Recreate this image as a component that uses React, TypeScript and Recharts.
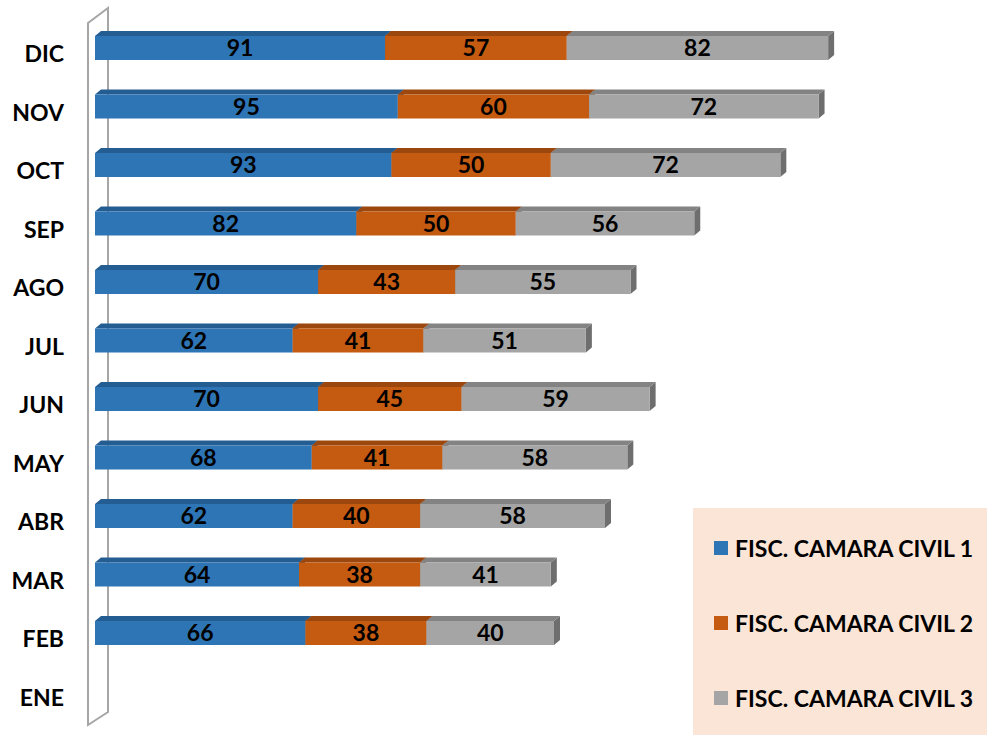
import React from 'react';
import { BarChart, Bar, XAxis, YAxis, LabelList, Legend, ReferenceArea } from 'recharts';

const months = ['ENE', 'FEB', 'MAR', 'ABR', 'MAY', 'JUN', 'JUL', 'AGO', 'SEP', 'OCT', 'NOV', 'DIC'];
const civil1: (number | null)[] = [null, 66, 64, 62, 68, 70, 62, 70, 82, 93, 95, 91];
const civil2: (number | null)[] = [null, 38, 38, 40, 41, 45, 41, 43, 50, 50, 60, 57];
const civil3: (number | null)[] = [null, 40, 41, 58, 58, 59, 51, 55, 56, 72, 72, 82];
const seriesNames = ['FISC. CAMARA CIVIL 1', 'FISC. CAMARA CIVIL 2', 'FISC. CAMARA CIVIL 3'];

const data = months.map((m, i) => ({ month: m, c1: civil1[i], c2: civil2[i], c3: civil3[i] }));

const FONT = 'Lato, "Open Sans", sans-serif';
const FS = 23;
const DX = 6;
const DY = 5;

const colors = [
  { front: '#2E75B6', top: '#245D91', side: '#1F4E79' },
  { front: '#C55A11', top: '#9C470D', side: '#843C0C' },
  { front: '#A5A5A5', top: '#838383', side: '#6E6E6E' },
];

const makeShape = (idx: number) => (props: any) => {
  const { x, y, width, height } = props;
  if (!width || width <= 0 || !height) return null;
  const c = colors[idx];
  const top = `${x},${y} ${x + DX},${y - DY} ${x + width + DX},${y - DY} ${x + width},${y}`;
  const side = `${x + width},${y} ${x + width + DX},${y - DY} ${x + width + DX},${y + height - DY} ${x + width},${y + height}`;
  return (
    <g>
      <polygon points={side} fill={c.side} />
      <polygon points={top} fill={c.top} />
      <rect x={x} y={y} width={width} height={height} fill={c.front} />
    </g>
  );
};

const WallShape = (props: any) => {
  const { x, y, height } = props;
  const fx = x - 7;
  const bx = x + 13;
  const ft = y + 4;
  const bt = y - 11;
  const fb = y + height + 4;
  const bb = y + height - 9;
  const pts = `${fx},${ft} ${bx},${bt} ${bx},${bb} ${fx},${fb}`;
  return <polygon points={pts} fill="none" stroke="#A6A6A6" strokeWidth={2} />;
};

const CatTick = (props: any) => {
  const { x, y, payload } = props;
  return (
    <text x={x - 23} y={y + 14} textAnchor="end" fontFamily={FONT} fontWeight={700} fontSize={FS} fill="#000">
      {payload.value}
    </text>
  );
};

const LegendBox = () => (
  <div
    style={{
      width: 294,
      height: 227,
      background: '#FBE5D6',
      position: 'relative',
      fontFamily: FONT,
      fontWeight: 700,
      fontSize: FS,
      color: '#000',
    }}
  >
    {seriesNames.map((n, i) => (
      <div
        key={n}
        style={{ position: 'absolute', left: 21, top: 24 + i * 75, height: 32, display: 'flex', alignItems: 'center', whiteSpace: 'nowrap' }}
      >
        <span style={{ display: 'inline-block', width: 14, height: 14, background: colors[i].front, marginRight: 7 }} />
        <span>{n}</span>
      </div>
    ))}
  </div>
);

const labelStyle = { fill: '#000', fontFamily: FONT, fontWeight: 700, fontSize: FS } as any;

export default function App() {
  return (
    <div style={{ position: 'absolute', left: 0, top: 0, width: 987, height: 735, background: '#fff' }}>
      <BarChart
        width={987}
        height={735}
        data={data}
        layout="vertical"
        barSize={24}
        margin={{ top: 19, right: 127, bottom: 14, left: 15 }}
      >
        <XAxis type="number" domain={[0, 240]} hide />
        <YAxis
          type="category"
          dataKey="month"
          reversed
          width={80}
          axisLine={false}
          tickLine={false}
          tick={<CatTick />}
          interval={0}
        />
        <ReferenceArea x1={0} x2={1} shape={<WallShape />} ifOverflow="visible" />
        <Bar dataKey="c1" stackId="a" shape={makeShape(0)} isAnimationActive={false}>
          <LabelList dataKey="c1" position="center" style={labelStyle} />
        </Bar>
        <Bar dataKey="c2" stackId="a" shape={makeShape(1)} isAnimationActive={false}>
          <LabelList dataKey="c2" position="center" style={labelStyle} />
        </Bar>
        <Bar dataKey="c3" stackId="a" shape={makeShape(2)} isAnimationActive={false}>
          <LabelList dataKey="c3" position="center" style={labelStyle} />
        </Bar>
        <Legend
          layout="vertical"
          align="center"
          verticalAlign="middle"
          content={<LegendBox />}
          wrapperStyle={{ left: 693, top: 508, width: 294, height: 227 }}
        />
      </BarChart>
    </div>
  );
}
